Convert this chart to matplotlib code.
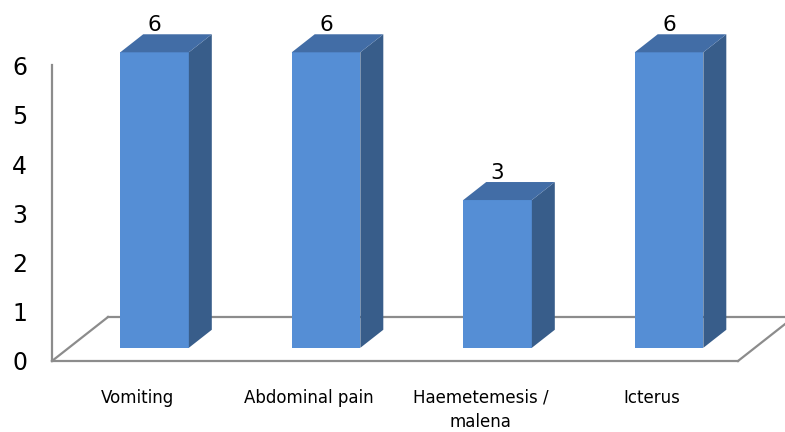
import matplotlib
matplotlib.use("Agg")
import matplotlib.pyplot as plt
from matplotlib.patches import Polygon

categories = ["Vomiting", "Abdominal pain", "Haemetemesis /\nmalena", "Icterus"]
counts = [6, 6, 3, 6]
y_ticks = [0, 1, 2, 3, 4, 5, 6]

# pseudo-3D geometry (data units): floor depth vector and bar depth slice
DEPTH_DX = 0.3265     # x shift of the full floor depth, in category units
DEPTH_DY = 0.893      # y shift of the full floor depth, in value units
BAR_FRONT = 0.30      # bar front plane as fraction of floor depth
BAR_BACK = 0.71       # bar back plane as fraction of floor depth
BAR_WIDTH = 0.40

FRONT_C = "#558ED5"
TOP_C = "#426DA6"
SIDE_C = "#385D8A"
FLOOR_C = "#8C8C8C"

plt.rcParams["font.family"] = ["DejaVu Sans"]

fig = plt.figure(figsize=(7.85, 4.32), dpi=100)
ax = fig.add_axes([52 / 785, 71 / 432, 686 / 785, (361 - 65.5) / 432])
ax.set_xlim(-0.5, len(categories) - 0.5)
ax.set_ylim(0, 6)
for s in ax.spines.values():
    s.set_visible(False)
ax.patch.set_visible(False)

x0, x1 = -0.5, len(categories) - 0.5

# floor outline and left axis line
ax.plot([x0, x1], [0, 0], color=FLOOR_C, lw=1.6, clip_on=False, zorder=1)
ax.plot([x0 + DEPTH_DX, x1 + DEPTH_DX], [DEPTH_DY, DEPTH_DY], color=FLOOR_C, lw=1.6, clip_on=False, zorder=1)
ax.plot([x0, x0 + DEPTH_DX], [0, DEPTH_DY], color=FLOOR_C, lw=1.6, clip_on=False, zorder=1)
ax.plot([x1, x1 + DEPTH_DX], [0, DEPTH_DY], color=FLOOR_C, lw=1.6, clip_on=False, zorder=1)
ax.plot([x0, x0], [0, 6.02], color=FLOOR_C, lw=1.6, clip_on=False, zorder=1)

# bars
fx = BAR_FRONT * DEPTH_DX
fy = BAR_FRONT * DEPTH_DY
bdx = (BAR_BACK - BAR_FRONT) * DEPTH_DX
bdy = (BAR_BACK - BAR_FRONT) * DEPTH_DY
xs = [i + fx for i in range(len(categories))]
ax.bar(xs, counts, width=BAR_WIDTH, bottom=fy, color=FRONT_C, zorder=3, clip_on=False)
for xc, v in zip(xs, counts):
    xl, xr = xc - BAR_WIDTH / 2, xc + BAR_WIDTH / 2
    top = fy + v
    side = Polygon([(xr, fy), (xr + bdx, fy + bdy), (xr + bdx, top + bdy), (xr, top)],
                   closed=True, facecolor=SIDE_C, edgecolor="none", zorder=3, clip_on=False)
    lid = Polygon([(xl, top), (xr, top), (xr + bdx, top + bdy), (xl + bdx, top + bdy)],
                  closed=True, facecolor=TOP_C, edgecolor="none", zorder=3, clip_on=False)
    ax.add_patch(side)
    ax.add_patch(lid)
    ax.text(xc, top + bdy + 0.06, str(v), ha="center", va="baseline",
            fontsize=15.5, color="black", zorder=4, clip_on=False)

ax.set_yticks(y_ticks)
ax.set_yticklabels([str(t) for t in y_ticks], fontsize=17)
ax.tick_params(axis="y", length=0, pad=18)
ax.set_xticks(range(len(categories)))
ax.set_xticklabels(categories, fontsize=12)
ax.tick_params(axis="x", length=0, pad=20)
for lbl in ax.get_xticklabels():
    lbl.set_linespacing(1.42)

fig.savefig("out.png", dpi=100)
